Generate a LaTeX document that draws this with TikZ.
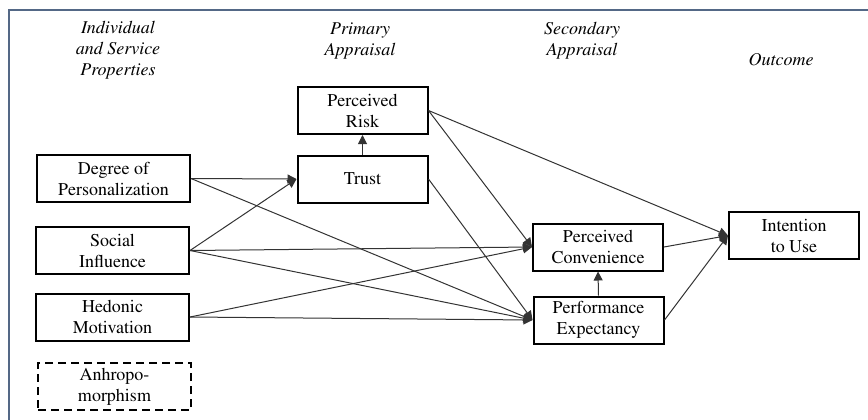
\documentclass[tikz,border=0pt]{standalone}
\usepackage[T1]{fontenc}
\usepackage{mathptmx}
\usetikzlibrary{arrows.meta}
\definecolor{frameblue}{RGB}{84,104,134}
\tikzset{
  factor/.style={rectangle,draw,line width=1pt,minimum width=65pt,
    minimum height=23.5pt,align=center,inner sep=1pt,
    font=\fontsize{9}{10.5}\selectfont},
  wide/.style={minimum width=76.5pt},
  latent/.style={factor,wide,dash pattern=on 4pt off 2.5pt},
  head/.style={align=center,font=\fontsize{9}{10.5}\selectfont\itshape},
  arr/.style={-{Triangle[length=4.5pt,width=4.5pt]},line width=0.5pt,black!80}
}
\begin{document}
\begin{tikzpicture}[x=0.5pt,y=-0.5pt]
 \useasboundingbox (0,0) rectangle (868,419);
 \draw[frameblue,line width=0.8pt] (9,10) rectangle (890,440);
 % column headings
 \node[head] (hind) at (118,50) {Individual\\and Service\\Properties};
 \node[head] (hprim) at (360,41) {Primary\\Appraisal};
 \node[head] (hsec) at (582,41) {Secondary\\Appraisal};
 \node[head] (hout) at (781,59) {Outcome};
 % individual and service properties
 \node[factor,wide] (dop) at (113.5,178.5) {Degree of\\Personalization};
 \node[factor,wide] (soc) at (112.5,250.5) {Social\\Influence};
 \node[factor,wide] (hed) at (112.5,317) {Hedonic\\Motivation};
 \node[latent] (anth) at (114.5,386.5) {Anhropo-\\morphism};
 % appraisals
 \node[factor] (risk) at (362.5,110.5) {Perceived\\Risk};
 \node[factor] (trust) at (362.5,179) {Trust};
 \node[factor] (conv) at (598,247) {Perceived\\Convenience};
 \node[factor] (perf) at (598.5,320) {Performance\\Expectancy};
 % outcome
 \node[factor] (use) at (794,235.5) {Intention\\to Use};
 % paths
 \draw[arr] (dop.east) -- (trust.west);
 \draw[arr] (soc.east) -- (trust.west);
 \draw[arr] (dop.east) -- (perf.west);
 \draw[arr] (soc.east) -- (conv.west);
 \draw[arr] (soc.east) -- (perf.west);
 \draw[arr] (hed.east) -- (conv.west);
 \draw[arr] (hed.east) -- (perf.west);
 \draw[arr] (trust.north) -- (risk.south);
 \draw[arr] (risk.east) -- (conv.west);
 \draw[arr] (trust.east) -- (perf.west);
 \draw[arr] (risk.east) -- (use.west);
 \draw[arr] (perf.north) -- (conv.south);
 \draw[arr] (conv.east) -- (use.west);
 \draw[arr] (perf.east) -- (use.west);
\end{tikzpicture}
\end{document}
